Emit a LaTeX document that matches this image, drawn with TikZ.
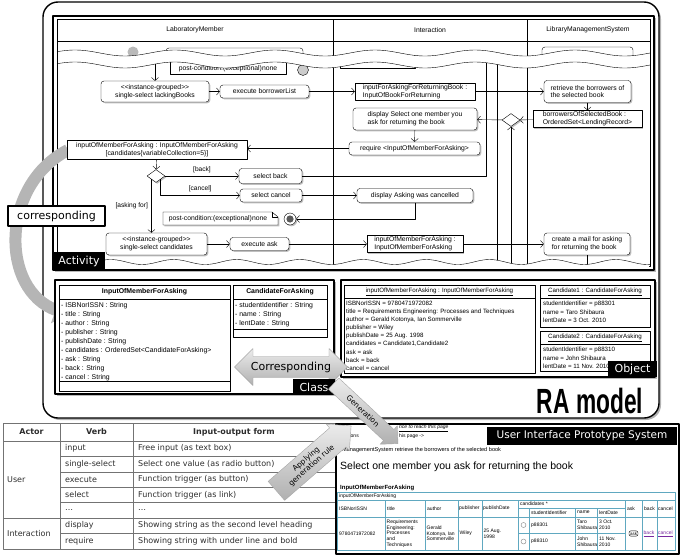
\documentclass[tikz,border=0pt]{standalone}
\usepackage{graphicx}
\usepackage{fontspec}
\setmainfont{Liberation Sans}
\newfontfamily\dejavu{DejaVu Sans}
\usetikzlibrary{arrows.meta,shapes.geometric,shapes.arrows,shadows}
\definecolor{cellline}{RGB}{96,168,192}
\definecolor{linkcol}{RGB}{120,40,160}
\definecolor{tabtext}{RGB}{45,45,45}
\newcommand\fsz[2]{\fontsize{#1}{#2}\selectfont}
\newcommand\lgu{<\kern0pt<}
\newcommand\rgu{>\kern0pt>}
\tikzset{
  shd/.style={drop shadow={shadow xshift=1.3pt,shadow yshift=-1.3pt,opacity=.5}},
  act/.style={draw,fill=white,rounded corners=3pt,inner sep=1.5pt,align=center,shd},
  obj/.style={draw,fill=white,inner sep=1.5pt,align=left,shd},
  dec/.style={diamond,draw,fill=white,minimum width=18pt,minimum height=13pt,inner sep=0pt,shd},
  flow/.style={-{Straight Barb[length=3pt,width=7pt]}},
  guard/.style={font=\fsz{6.6}{7.6}},
  umlframe/.style={draw,line width=2.4pt,fill=white,drop shadow={shadow xshift=2pt,shadow yshift=-2pt,opacity=.55}},
  tagbox/.style={fill=black,text=white,font=\dejavu\fsz{11}{12},inner sep=0pt},
  cls/.style={draw,line width=.9pt,fill=white,shd},
  attr/.style={anchor=west,inner sep=0pt,font=\fsz{6.9}{8}},
  oattr/.style={anchor=west,inner sep=0pt,font=\fsz{6.2}{7}},
  cell/.style={anchor=west,inner sep=0pt,text=tabtext,font=\dejavu\fsz{8}{9}},
  ui/.style={anchor=west,inner sep=0pt,align=left,font=\fsz{5}{5.6}},
  bigarrow/.style={top color=gray!15,bottom color=gray!62,draw=gray!70,
    font=\dejavu\fsz{7.5}{8.5},align=center,inner sep=4.5pt}
}

\begin{document}
\begin{tikzpicture}[x=1pt,y=-1pt,font=\fsz{6.8}{7.8},line join=round,>=stealth]
\useasboundingbox (0,0) rectangle (685,557);

% RA model
\draw[line width=1.4pt,fill=white,rounded corners=15pt,drop shadow={shadow xshift=2pt,shadow yshift=-2pt,opacity=.6}] (43,2) rectangle (659,418);
\node[font=\fsz{35}{36}\bfseries] (ramodel) at (590,401) {\scalebox{.65}[1]{RA model}};

% activity
\draw[umlframe] (53,16) rectangle (654,270);
\draw (57,19) rectangle (650,266);
\draw (57,41) -- (650,41);
\draw (333,19) -- (333,266) (527,19) -- (527,266);
\node (lmhead) at (195,30) {LaboratoryMember};
\node (ihead) at (430,30) {Interaction};
\node (lmshead) at (588,30) {LibraryManagementSystem};

\fill[gray!55] (133,52) circle (5.5pt);
\draw[fill=white,rounded corners=3pt] (166,48) rectangle (303,61);
\draw[fill=white] (170,61) rectangle (286,74);
\node (remnote) at (228,69) {post-condition:(exceptional)none};
\draw[fill=gray!40] (303,70) circle (5.5pt);
\draw[fill=white] (340,55) rectangle (415,68);
\draw[fill=white,rounded corners=3pt] (542,47) rectangle (633,60);

\coordinate (start) at (155,58);
\coordinate (loopin) at (486,58);
\coordinate (passtop) at (497,58);
\coordinate (passbot) at (497,266);
\coordinate (decin) at (511,266);
\coordinate (mailout) at (587,266);

\node[act,minimum width=108pt,minimum height=21pt] (lack) at (155,91.5) {\lgu instance-grouped\rgu\\single-select lackingBooks};
\node[act,minimum width=89pt,minimum height=13pt] (exbl) at (264.5,91.5) {execute borrowerList};
\node[obj,minimum width=120pt,minimum height=16pt] (inret) at (415,91.5) {inputForAskingForReturningBook :\\InputOfBookForReturning};
\node[act,minimum width=87pt,minimum height=22pt,align=left] (retr) at (587.5,91.5) {retrieve the borrowers of\\the selected book};
\node[obj,minimum width=109pt,minimum height=16pt] (borr) at (587.5,119) {borrowersOfSelectedBook :\\OrderedSet<LendingRecord>};
\node[dec] (dec2) at (511,120) {};
\node[act,minimum width=124pt,minimum height=22pt,align=left] (disp1) at (415,119) {display Select one member you\\ask for returning the book};
\node[act,minimum width=131pt,minimum height=13pt] (req) at (414.5,148.5) {require <InputOfMemberForAsking>};

% corresponding arc
\draw[line width=12pt,gray!58,-{Triangle[length=12pt,width=28pt]}] (68,150) .. controls (0,185) and (0,290) .. (67,314);

\node[obj,align=center,minimum width=180pt,minimum height=19pt] (inmem) at (157,149.5) {inputOfMemberForAsking : InputOfMemberForAsking\\{}[candidates\{variableCollection=5\}]};
\node[dec] (dec1) at (156,176) {};
\node[act,minimum width=63pt,minimum height=15pt] (selb) at (270.5,176) {select back};
\node[act,minimum width=62pt,minimum height=13pt] (selc) at (271,195.5) {select cancel};
\node[act,minimum width=116pt,minimum height=14pt] (dispc) at (415,195.5) {display Asking was cancelled};
\draw[fill=white,shd] (163,212) -- (272,212) -- (278,217) -- (278,225) -- (163,225) -- cycle;
\draw (272,212) -- (272,217) -- (278,217);
\node (note) at (218,218.5) {post-condition:(exceptional)none};
\node[circle,draw,fill=white,minimum size=12pt,inner sep=0pt,shd] (fin) at (290,219) {};
\fill[gray!70!black] (fin.center) circle (3.6pt);
\node[act,minimum width=101pt,minimum height=22pt] (selcand) at (156.5,244) {\lgu instance-grouped\rgu\\single-select candidates};
\node[act,minimum width=59pt,minimum height=13pt] (exask) at (259.5,244) {execute ask};
\node[obj,minimum width=96pt,minimum height=17pt] (inmem2) at (415,244) {inputOfMemberForAsking :\\InputOfMemberForAsking};
\node[act,minimum width=86pt,minimum height=22pt,align=left] (mail) at (587,244) {create a mail for asking\\for returning the book};

\draw[flow] (start) -- (lack);
\draw[flow] (lack) -- (exbl);
\draw[flow] (exbl) -- (inret);
\draw[flow] (inret) -- (retr);
\draw[flow] (retr) -- (borr);
\draw[flow] (borr) -- (dec2);
\draw[flow] (dec2) -- (disp1);
\draw[flow] (disp1) -- (req);
\draw[flow] (req.west) -- (req.west -| inmem.east);
\draw[flow] (inmem) -- (dec1);
\draw[flow] (dec1) -- node[guard,above] {[back]} (selb);
\draw[flow] (dec1.south east) |- node[guard,above,pos=.75] {[cancel]} (selc);
\draw[flow] (dec1.south west) -- node[guard,left] {[asking for]} (dec1.south west |- selcand.north);
\draw (selb) -| (loopin);
\draw[flow] (selc) -- (dispc);
\draw[flow] (dispc) |- (fin);
\draw[flow] (selcand) -- (exask);
\draw[flow] (exask) -- (inmem2);
\draw[flow] (inmem2) -- (mail);
\draw (mail) -- (mailout);
\draw[flow] (decin) -- (dec2);
\draw (passtop) -- (passbot);

% cut lines
\fill[white] plot[domain=58:649,samples=150] (\x,{53+3*sin(3.6*\x)}) -- plot[domain=649:58,samples=150] (\x,{65+3*sin(3.6*\x)}) -- cycle;
\draw plot[domain=57:650,samples=150] (\x,{53+3*sin(3.6*\x)});
\draw plot[domain=57:650,samples=150] (\x,{65+3*sin(3.6*\x)});
\fill[white] plot[domain=105:649,samples=150] (\x,{262+2.5*sin(5.7*\x)}) -- (649,267.5) -- (105,267.5) -- cycle;
\draw plot[domain=105:650,samples=150] (\x,{262+2.5*sin(5.7*\x)});
\node[tagbox,minimum width=52pt,minimum height=18pt] (acttag) at (79,261) {Activity};

% class
\draw[umlframe] (55,280) rectangle (334,394);
\draw[cls] (59,285) rectangle (230,391);
\draw (59,299) -- (230,299) (59,381) -- (230,381);
\node[font=\fsz{6.9}{8}\bfseries] (clsname) at (144.5,292) {InputOfMemberForAsking};
\foreach \a/\t [count=\i from 0] in {ISBNorISSN/String,title/String,author/String,publisher/String,publishDate/String,candidates/OrderedSet<CandidateForAsking>,ask/String,back/String,cancel/String}
  \node[attr] (cattr\i) at (61,{306+9*\i}) {- \a\ : \t};
\draw[cls] (233,285) rectangle (327,337);
\draw (233,299) -- (327,299) (233,329) -- (327,329);
\node[font=\fsz{6.9}{8}\bfseries] (cfaname) at (280,292) {CandidateForAsking};
\foreach \a [count=\i from 0] in {studentIdentifier,name,lentDate}
  \node[attr] (cfattr\i) at (235,{306+9*\i}) {- \a\ : String};

% object
\draw[umlframe] (341,280) rectangle (655,377);
\draw[cls] (344,285) rectangle (535,373);
\draw (344,298) -- (535,298);
\node[font=\fsz{6.2}{7}] (objname) at (439.5,291.5) {\underline{inputOfMemberForAsking : InputOfMemberForAsking}};
\foreach \a [count=\i from 0] in {ISBNorISSN = 9780471972082,title = Requirements Engineering: Processes and Techniques,{author = Gerald Kotonya, Ian Sommerville},publisher = Wiley,publishDate = 25 Aug. 1998,{candidates = Candidate1,Candidate2},ask = ask,back = back,cancel = cancel}
  \node[oattr] (oattr\i) at (346,{303.5+8.1*\i}) {\a};
\draw[cls] (540,285) rectangle (650,327);
\draw (540,298) -- (650,298);
\node[font=\fsz{6.2}{7}] (cand1) at (595,291.5) {\underline{Candidate1 : CandidateForAsking}};
\foreach \a [count=\i from 0] in {studentIdentifier = p88301,name = Taro Shibaura,lentDate = 3 Oct. 2010}
  \node[oattr] (c1attr\i) at (543,{304+8*\i}) {\a};
\draw[cls] (540,331) rectangle (650,371);
\draw (540,344) -- (650,344);
\node[font=\fsz{6.2}{7}] (cand2) at (595,337.5) {\underline{Candidate2 : CandidateForAsking}};
\foreach \a [count=\i from 0] in {studentIdentifier = p88310,name = John Shibaura,lentDate = 11 Nov. 2010}
  \node[oattr] (c2attr\i) at (543,{350+8*\i}) {\a};

\node[double arrow,bigarrow,font=\dejavu\fsz{11}{12},minimum height=113pt,double arrow head extend=8pt,inner sep=5pt] (corr) at (291,367) {Corresponding};
\node[tagbox,minimum width=42pt,minimum height=16pt] (clstag) at (314,387) {Class};
\node[tagbox,minimum width=49pt,minimum height=16pt] (objtag) at (632.5,369) {Object};
\node[draw,line width=1.4pt,fill=white,font=\dejavu\fsz{11}{12},minimum width=97pt,minimum height=20pt,inner sep=0pt] (corrlbl) at (56.5,216) {corresponding};

% rule table
\begin{scope}[draw=black!55,line width=.6pt]
\draw (3,423) rectangle (335,548.8);
\draw (60,423) -- (60,548.8) (133,423) -- (133,548.8);
\draw (3,441) -- (335,441) (3,518) -- (335,518);
\foreach \y in {456.4,471.8,487.2,502.6,533.4} \draw (60,\y) -- (335,\y);
\end{scope}
\node[cell,anchor=center,font=\dejavu\fsz{8}{9}\bfseries] (hactor) at (31.5,432) {Actor};
\node[cell,anchor=center,font=\dejavu\fsz{8}{9}\bfseries] (hverb) at (96.5,432) {Verb};
\node[cell,anchor=center,font=\dejavu\fsz{8}{9}\bfseries] (hform) at (234,432) {Input-output form};
\node[cell] (user) at (7,479.5) {User};
\node[cell] (inter) at (7,533.4) {Interaction};
\foreach \vb/\fm [count=\i from 0] in {input/Free input (as text box),single-select/Select one value (as radio button),execute/Function trigger (as button),select/Function trigger (as link),\ldots/\ldots,display/Showing string as the second level heading,require/Showing string with under line and bold}
{
  \node[cell] (verb\i) at (65,{448.7+15.4*\i}) {\vb};
  \node[cell] (form\i) at (138,{448.7+15.4*\i}) {\fm};
}

% UI prototype
\draw[line width=2pt,fill=white] (336,424) rectangle (679,554);
\node[tagbox,font=\dejavu\fsz{10.5}{12},minimum width=190pt,minimum height=18pt] (uitag) at (582,436) {User Interface Prototype System};
\node[ui,font=\fsz{5}{5.6}\itshape] (uil1) at (399,428.5) {\underline{nce to reach this page}};
\node[ui] (uil2a) at (348,435.5) {tions};
\node[ui] (uil2b) at (399,436.5) {his page ->};
\node[ui,font=\fsz{5.6}{6}] (uil3) at (339,450) {yManagementSystem retrieve the borrowers of the selected book};
\node[ui,font=\fsz{10.5}{12}] (uihead) at (340,467) {Select one member you ask for returning the book};
\node[ui,font=\fsz{6}{7}\bfseries] (uiform) at (340,488.5) {\underline{InputOfMemberForAsking}};
\begin{scope}[draw=cellline,line width=.8pt]
\draw (337,492) rectangle (675,550);
\draw (337,500) -- (675,500) (337,517) -- (675,517);
\draw (518,508) -- (625,508) (518,533) -- (625,533);
\foreach \x in {385,425,458,482,518,625,642,657} \draw (\x,500) -- (\x,550);
\foreach \x in {529,575,597} \draw (\x,508) -- (\x,550);
\end{scope}
\node[ui] (t0) at (339,496) {inputOfMemberForAsking};
\foreach \x/\h [count=\i] in {339/ISBNorISSN,387/title,427/author,459/publisher,483/publishDate,627/ask,644/back,658/cancel}
  \node[ui] (th\i) at (\x,508.5) {\h};
\node[ui] (tcand) at (520,504) {candidates *};
\node[ui] (tsid) at (531,512.5) {studentIdentifier};
\node[ui] (tname) at (577,512.5) {name};
\node[ui] (tlent) at (599,512.5) {lentDate};
\node[ui] (tisbn) at (339,533.5) {9780471972082};
\node[ui] (ttitle) at (386.5,533.5) {Requirements\\Engineering:\\Processes\\and\\Techniques};
\node[ui] (tauth) at (426.5,533.5) {Gerald\\Kotonya, Ian\\Sommerville};
\node[ui] (tpub) at (459.5,533.5) {Wiley};
\node[ui] (tdate) at (483.5,533.5) {25 Aug.\\1998};
\node[circle,draw=gray,minimum size=5pt,inner sep=0pt] (rad1) at (523.5,525) {};
\node[circle,draw=gray,minimum size=5pt,inner sep=0pt] (rad2) at (523.5,541.5) {};
\node[ui] (sid1) at (531,525) {p88301};
\node[ui] (sid2) at (531,541.5) {p88310};
\node[ui] (nm1) at (577,525) {Taro\\Shibaura};
\node[ui] (nm2) at (577,541.5) {John\\Shibaura};
\node[ui] (ld1) at (599,525) {3 Oct.\\2010};
\node[ui] (ld2) at (599,541.5) {11 Nov.\\2010};
\node[draw,rounded corners=2pt,inner sep=1pt,font=\fsz{4.5}{5}] (askbtn) at (633.5,533.5) {ask};
\node[ui,text=linkcol] (backlnk) at (643.5,533.5) {\underline{back}};
\node[ui,text=linkcol] (canlnk) at (658,533.5) {\underline{cancel}};

% generation arrows
\node[single arrow,bigarrow,rotate=41,minimum height=99pt,single arrow head extend=5pt] (apply) at (309,462.5) {Applying\\generation rule};
\node[single arrow,bigarrow,rotate=-43,minimum height=88pt,single arrow head extend=5pt] (gen) at (363,411) {Generation};
\end{tikzpicture}
\end{document}
